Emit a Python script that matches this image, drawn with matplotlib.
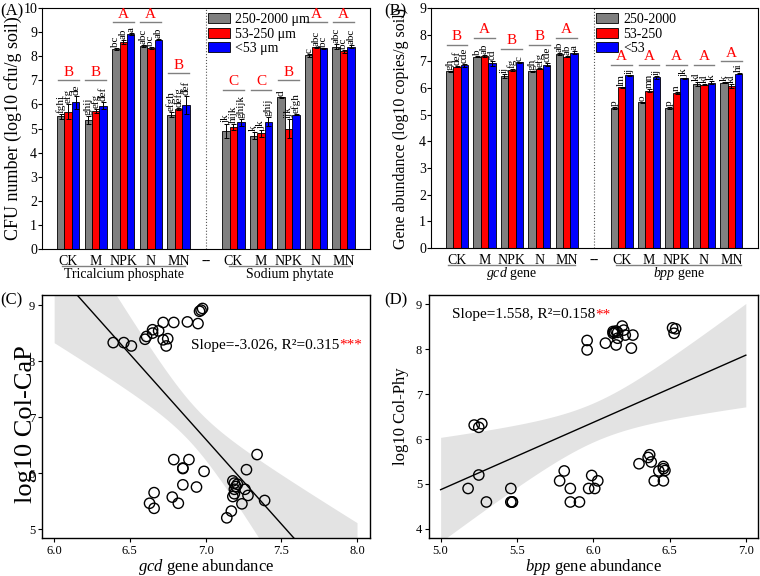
import numpy as np
import matplotlib
matplotlib.use('Agg')
import matplotlib.pyplot as plt
import matplotlib.transforms as mtransforms

plt.rcParams['font.family'] = ['Liberation Serif', 'DejaVu Serif']
plt.rcParams['mathtext.fontset'] = 'custom'
plt.rcParams['mathtext.rm'] = 'Liberation Serif'
plt.rcParams['mathtext.it'] = 'Liberation Serif:italic'

# ---------------- data ----------------
treatments = ['CK', 'M', 'NPK', 'N', 'MN']
tick_labels = treatments + ['--'] + treatments
size_labels_A = ['250-2000 \u03bcm', '53-250 \u03bcm', '<53 \u03bcm']
size_labels_B = ['250-2000', '53-250', '<53']
bar_colors = ['#808080', '#ff0000', '#0000ff']

# Panel A: CFU number (Tricalcium phosphate x5, Sodium phytate x5)
A_gray = [5.50, 5.35, 8.30, 8.42, 5.58, 4.90, 4.70, 6.30, 8.03, 8.40]
A_red = [5.70, 5.73, 8.60, 8.33, 5.80, 5.05, 4.80, 5.00, 8.38, 8.20]
A_blue = [6.08, 5.95, 8.92, 8.68, 5.97, 5.25, 5.28, 5.58, 8.33, 8.40]
A_gray_err = [0.12, 0.15, 0.03, 0.03, 0.10, 0.30, 0.15, 0.02, 0.05, 0.10]
A_red_err = [0.30, 0.08, 0.08, 0.05, 0.04, 0.12, 0.15, 0.38, 0.02, 0.05]
A_blue_err = [0.25, 0.15, 0.03, 0.02, 0.38, 0.15, 0.18, 0.03, 0.03, 0.05]
A_gray_let = ['fghi', 'ghij', 'bc', 'abc', 'efgh', 'jk', 'k', 'd', 'c', 'abc']
A_red_let = ['efg', 'efg', 'ab', 'bc', 'defg', 'hijk', 'jk', 'ijk', 'abc', 'bc']
A_blue_let = ['de', 'def', 'a', 'ab', 'def', 'ghijk', 'ghij', 'efgh', 'bc', 'abc']
A_group_let = ['B', 'B', 'A', 'A', 'B', 'C', 'C', 'B', 'A', 'A']
A_group_y = [7.0, 7.0, 9.4, 9.4, 7.3, 6.6, 6.6, 7.0, 9.4, 9.4]

# Panel B: gene abundance (gcd x5, bpp x5)
B_gray = [6.63, 7.17, 6.45, 6.62, 7.27, 5.25, 5.47, 5.25, 6.15, 6.20]
B_red = [6.80, 7.20, 6.68, 6.73, 7.18, 6.02, 5.90, 5.82, 6.13, 6.08]
B_blue = [6.85, 6.92, 6.97, 6.87, 7.33, 6.47, 6.40, 6.37, 6.20, 6.53]
B_gray_err = [0.02, 0.02, 0.08, 0.02, 0.03, 0.04, 0.02, 0.02, 0.08, 0.02]
B_red_err = [0.03, 0.02, 0.03, 0.02, 0.02, 0.02, 0.05, 0.03, 0.02, 0.08]
B_blue_err = [0.05, 0.08, 0.02, 0.06, 0.05, 0.02, 0.06, 0.02, 0.05, 0.02]
B_gray_let = ['gh', 'b', 'ij', 'gh', 'ab', 'p', 'o', 'p', 'kl', 'k']
B_red_let = ['def', 'ab', 'fg', 'efg', 'ab', 'lm', 'mn', 'n', 'kl', 'kl']
B_blue_let = ['cde', 'cd', 'c', 'cde', 'a', 'ij', 'ij', 'jk', 'k', 'hi']
B_group_let = ['B', 'A', 'B', 'B', 'A', 'A', 'A', 'A', 'A', 'A']
B_group_y = [7.62, 7.88, 7.47, 7.62, 7.88, 6.87, 6.87, 6.87, 6.87, 7.0]

# Panel C: gcd abundance vs log10 Col-CaP
C_x = [6.39, 6.46, 6.51, 6.60, 6.61, 6.65, 6.65, 6.69, 6.72, 6.72, 6.75, 6.74,
       6.79, 6.88, 6.95, 6.96, 6.97, 6.98,
       6.79, 6.89, 6.85, 6.85, 6.99, 6.85, 6.94, 6.66, 6.78, 6.63, 6.66, 6.82,
       7.17, 7.14, 7.18, 7.19, 7.21, 7.20, 7.19, 7.18, 7.19, 7.26, 7.27, 7.34,
       7.28, 7.24, 7.39]
C_y = [8.33, 8.33, 8.27, 8.39, 8.44, 8.50, 8.56, 8.54, 8.69, 8.38, 8.40, 8.27,
       8.69, 8.70, 8.67, 8.89, 8.91, 8.94,
       6.24, 6.24, 6.09, 6.08, 6.03, 5.79, 5.75, 5.65, 5.57, 5.46, 5.37, 5.46,
       5.32, 5.20, 5.86, 5.82, 5.80, 5.76, 5.71, 5.58, 5.63, 5.71, 6.06, 6.33,
       5.60, 5.45, 5.51]

# Panel D: bpp abundance vs log10 Col-Phy
D_x = [5.18, 5.25, 5.22, 5.25, 5.27, 5.30, 5.46, 5.46, 5.47, 5.47,
       5.78, 5.81, 5.85, 5.85, 5.91, 5.97, 5.99, 6.01, 6.03,
       5.96, 5.96, 6.08, 6.13, 6.14, 6.15, 6.16, 6.13, 6.19, 6.20, 6.15,
       6.16, 6.21, 6.26, 6.25, 6.52, 6.54, 6.53,
       6.30, 6.36, 6.37, 6.38, 6.40, 6.43, 6.46, 6.47, 6.46, 6.46]
D_y = [4.90, 5.20, 6.31, 6.26, 6.34, 4.60, 4.90, 4.60, 4.60, 4.60,
       5.07, 5.29, 4.90, 4.60, 4.60, 4.90, 5.19, 4.90, 5.07,
       8.19, 7.98, 8.13, 8.39, 8.37, 8.40, 8.37, 8.35, 8.51, 8.42, 8.09,
       8.24, 8.31, 8.31, 8.02, 8.47, 8.45, 8.35,
       5.45, 5.59, 5.65, 5.49, 5.07, 5.29, 5.39, 5.30, 5.34, 5.07]

C_text = 'Slope=-3.026, R\u00b2=0.315'
C_stars = '***'
D_text = 'Slope=1.558, R\u00b2=0.158'
D_stars = '**'

# ---------------- figure ----------------
fig = plt.figure(figsize=(7.6, 5.76), dpi=100)
axA = fig.add_axes([0.0553, 0.5677, 0.4316, 0.4184])
axB = fig.add_axes([0.567, 0.5694, 0.430, 0.4167])
axC = fig.add_axes([0.0553, 0.066, 0.4316, 0.4218])
axD = fig.add_axes([0.5645, 0.066, 0.4329, 0.4218])

positions = np.arange(len(tick_labels))
data_pos = np.array([p for p, t in zip(positions, tick_labels) if t != '--'])
sep_pos = [p for p, t in zip(positions, tick_labels) if t == '--'][0]
bw = 0.27


def bar_panel(ax, series, errs, lets, group_let, group_y, ylim, labels,
              ylabel, ylabel_fs, group_names, group_spans, ylabel_x, leg_x):
    for k in range(3):
        ax.bar(data_pos + (k - 1) * bw, series[k], width=bw, color=bar_colors[k],
               edgecolor='black', linewidth=0.6, label=labels[k], zorder=2,
               yerr=errs[k], capsize=1.8,
               error_kw=dict(elinewidth=0.7, capthick=0.7, ecolor='black'))
        for x, v, e, l in zip(data_pos + (k - 1) * bw, series[k], errs[k], lets[k]):
            ax.text(x, v + e + 0.04, l, rotation=90, ha='center', va='bottom',
                    fontsize=8)
    for x, L, y in zip(data_pos, group_let, group_y):
        ax.plot([x - 0.38, x + 0.38], [y, y], color='#808080', lw=1.0)
        ax.text(x, y + 0.06, L, color='red', ha='center', va='bottom', fontsize=11)
    ax.axvline(sep_pos, color='#555555', lw=0.8, ls=':', zorder=1)
    ax.set_xlim(-0.95, 10.96)
    ax.set_ylim(*ylim)
    ax.set_yticks(np.arange(ylim[0], ylim[1] + 1))
    ax.set_xticks(positions)
    ax.set_xticklabels(tick_labels, fontsize=10)
    ax.tick_params(axis='x', length=0, pad=4)
    ax.tick_params(axis='y', direction='out', length=3, labelsize=10, pad=0.5)
    ax.set_ylabel(ylabel, fontsize=ylabel_fs)
    ax.yaxis.set_label_coords(ylabel_x, 0.5)
    trans = mtransforms.blended_transform_factory(ax.transData, ax.transAxes)
    for name, (x0, x1) in zip(group_names, group_spans):
        ax.plot([x0, x1], [-0.07, -0.07], color='#808080', lw=1.0,
                transform=trans, clip_on=False)
        ax.text((x0 + x1) / 2, -0.105, name, transform=trans, ha='center',
                va='center', fontsize=10)
    ax.legend(loc='upper left', bbox_to_anchor=(leg_x, 1.0), frameon=False,
              fontsize=10, handlelength=1.6, handleheight=0.75,
              handletextpad=0.35, labelspacing=0.12, borderaxespad=0.15,
              borderpad=0.2)
    for s in ax.spines.values():
        s.set_linewidth(0.8)


bar_panel(axA, [A_gray, A_red, A_blue], [A_gray_err, A_red_err, A_blue_err],
          [A_gray_let, A_red_let, A_blue_let], A_group_let, A_group_y, (0, 10),
          size_labels_A, 'CFU number (log10 cfu/g soil)', 13,
          ['Tricalcium phosphate', 'Sodium phytate'], [(-0.22, 4.25), (5.85, 10.25)],
          -0.062, 0.49)
bar_panel(axB, [B_gray, B_red, B_blue], [B_gray_err, B_red_err, B_blue_err],
          [B_gray_let, B_red_let, B_blue_let], B_group_let, B_group_y, (0, 9),
          size_labels_B, 'Gene abundance (log10 copies/g soil)', 11.5,
          [r'$\it{gcd}$ gene', r'$\it{bpp}$ gene'], [(-0.33, 4.3), (5.8, 10.36)],
          -0.067, 0.49)


def reg_panel(ax, x, y, xgrid_range, xlim, ylim, xticks, yticks, xlabel, ylabel,
              ylabel_fs, ylabel_coords, text, stars, text_pos, text_fs):
    x = np.asarray(x)
    y = np.asarray(y)
    n = len(x)
    b, a = np.polyfit(x, y, 1)
    xg = np.linspace(xgrid_range[0], xgrid_range[1], 200)
    yg = a + b * xg
    resid = y - (a + b * x)
    s = np.sqrt(np.sum(resid ** 2) / (n - 2))
    sxx = np.sum((x - x.mean()) ** 2)
    se = s * np.sqrt(1.0 / n + (xg - x.mean()) ** 2 / sxx)
    t = 2.016
    ax.fill_between(xg, yg - t * se, yg + t * se, color='#e3e3e3', lw=0, zorder=1)
    ax.plot(xg, yg, color='black', lw=1.0, zorder=2)
    ax.scatter(x, y, s=55, facecolors='none', edgecolors='black', linewidths=1.0,
               zorder=3)
    ax.set_xlim(*xlim)
    ax.set_ylim(*ylim)
    ax.set_xticks(xticks)
    ax.set_xticklabels(['%.1f' % v for v in xticks])
    ax.set_yticks(yticks)
    ax.tick_params(direction='out', length=3, labelsize=9, pad=2)
    ax.set_xlabel(xlabel, fontsize=12, labelpad=0)
    ax.set_ylabel(ylabel, fontsize=ylabel_fs)
    ax.yaxis.set_label_coords(*ylabel_coords)
    tx = ax.text(text_pos[0], text_pos[1], text, transform=ax.transAxes,
                 fontsize=text_fs, ha='left', va='center')
    ax.annotate(stars, xy=(1, 0.5), xycoords=tx, ha='left', va='center',
                color='red', fontsize=text_fs)
    for sp in ax.spines.values():
        sp.set_linewidth(1.0)


reg_panel(axC, C_x, C_y, (6.0, 8.0), (5.92, 8.086), (4.84, 9.18),
          [6.0, 6.5, 7.0, 7.5, 8.0], [5, 6, 7, 8, 9],
          r'$\it{gcd}$ gene abundance', 'log10 Col-CaP', 19, (-0.015, 0.47),
          C_text, C_stars, (0.455, 0.794), 11)
reg_panel(axD, D_x, D_y, (5.0, 7.0), (4.924, 7.08), (3.8, 9.2),
          [5.0, 5.5, 6.0, 6.5, 7.0], [4, 5, 6, 7, 8, 9],
          r'$\it{bpp}$ gene abundance', 'log10 Col-Phy', 12, (-0.06, 0.5),
          D_text, D_stars, (0.07, 0.918), 11)

fig.text(0 / 760, 1 - 11 / 576, '(A)', fontsize=12, ha='left', va='center')
fig.text(384 / 760, 1 - 11 / 576, '(B)', fontsize=12, ha='left', va='center')
fig.text(0 / 760, 1 - 300 / 576, '(C)', fontsize=12, ha='left', va='center')
fig.text(384 / 760, 1 - 300 / 576, '(D)', fontsize=12, ha='left', va='center')

fig.savefig('out.png', dpi=100)
